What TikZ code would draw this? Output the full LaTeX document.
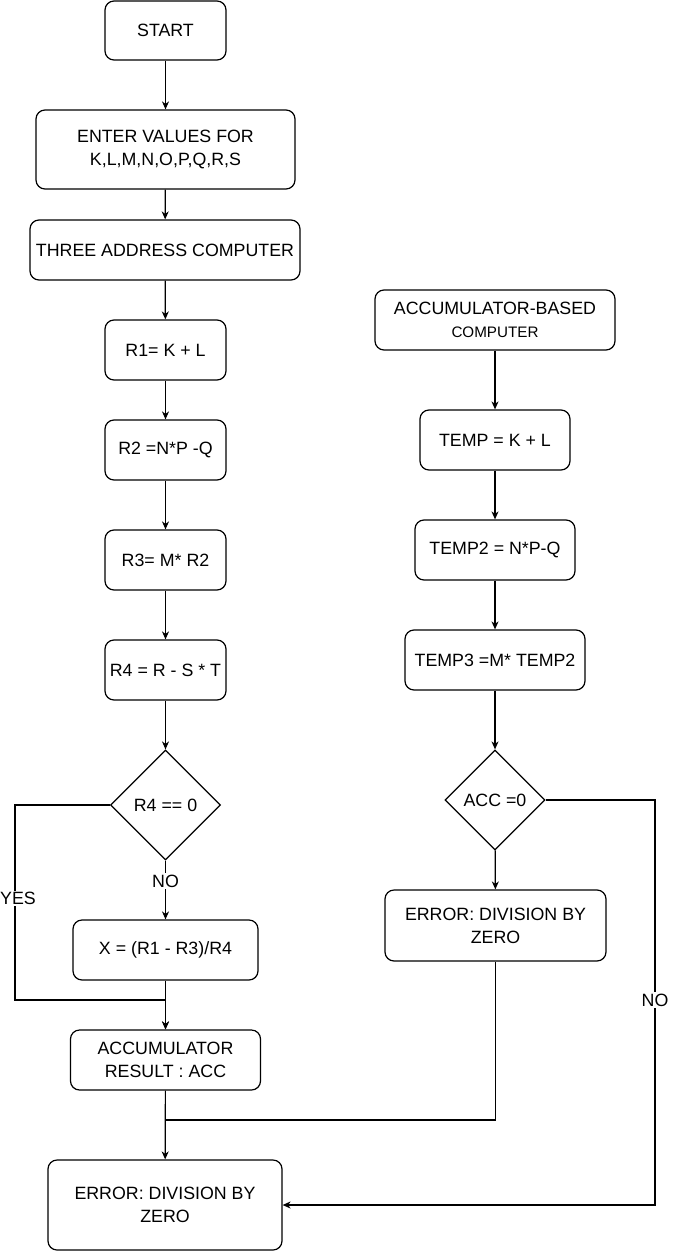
\documentclass[tikz,border=0pt]{standalone}
\usepackage{fontspec}
\setmainfont{Liberation Sans}
\usetikzlibrary{shapes.geometric,arrows.meta}
\begin{document}
\begin{tikzpicture}[x=1pt,y=-1pt,
  txt/.style={font=\fontsize{17.8}{23}\selectfont},
  box/.style={txt,draw,rounded corners=9pt,line width=1.2pt,align=center,inner sep=0pt},
  dia/.style={txt,draw,diamond,line width=1.2pt,inner sep=0pt,aspect=1},
  ln/.style={line width=1.2pt},
  arr/.style={ln,-{Stealth[length=8pt,width=7pt,inset=2.5pt]}},
  lbl/.style={txt,fill=white,inner sep=1.5pt}]
\useasboundingbox (0,0) rectangle (674,1252);
% left column
\node[box,minimum width=121pt,minimum height=59pt] (start) at (165.5,30.5) {START};
\node[box,minimum width=259pt,minimum height=79pt] (enter) at (165.5,149.5) {ENTER VALUES FOR\\K,L,M,N,O,P,Q,R,S};
\node[box,minimum width=270pt,minimum height=60pt] (three) at (165,250) {THREE ADDRESS COMPUTER};
\node[box,minimum width=121pt,minimum height=60pt] (r1) at (165.5,350) {R1= K + L};
\node[box,minimum width=121pt,minimum height=60pt] (r2) at (165.5,450) {R2 =N*P -Q};
\node[box,minimum width=121pt,minimum height=60pt] (r3) at (165.5,560) {R3= M* R2};
\node[box,minimum width=121pt,minimum height=60pt] (r4) at (165.5,670) {R4 = R - S * T};
\node[dia,minimum width=110pt,minimum height=110pt] (d1) at (165.5,805) {R4 == 0};
\node[box,minimum width=185pt,minimum height=60pt] (x) at (165.5,950) {X = (R1 - R3)/R4};
\node[box,minimum width=190pt,minimum height=60pt] (acc) at (165.5,1060) {ACCUMULATOR\\RESULT : ACC};
\node[box,minimum width=234pt,minimum height=90pt] (err1) at (165,1205) {ERROR: DIVISION BY\\ZERO};
% right column
\node[box,minimum width=240pt,minimum height=60pt] (ab) at (495,320) {ACCUMULATOR-BASED\\{\fontsize{15.2}{20}\selectfont COMPUTER}};
\node[box,minimum width=150pt,minimum height=60pt] (t1) at (495,440) {TEMP = K + L};
\node[box,minimum width=160pt,minimum height=60pt] (t2) at (495,550) {TEMP2 = N*P-Q};
\node[box,minimum width=180pt,minimum height=60pt] (t3) at (495,660) {TEMP3 =M* TEMP2};
\node[dia,minimum width=100pt,minimum height=100pt] (d2) at (495,800) {ACC =0};
\node[box,minimum width=221pt,minimum height=71pt] (err2) at (495.5,925.5) {ERROR: DIVISION BY\\ZERO};
% coordinates
\coordinate (yb) at (15,1000);
\coordinate (jn) at (165.5,1120);
\coordinate (nb) at (655,1205);
% connectors left
\draw[arr] (start) -- (enter);
\draw[arr] (enter) -- (three);
\draw[arr] (three) -- (r1);
\draw[arr] (r1) -- (r2);
\draw[arr] (r2) -- (r3);
\draw[arr] (r3) -- (r4);
\draw[arr] (r4) -- (d1);
\draw[arr] (d1) -- node[lbl,pos=0.35]{NO} (x);
\draw[arr] (d1.west) -| node[lbl,pos=0.74,xshift=3pt,inner xsep=0.5pt]{YES} (yb) -| (acc.north);
\draw[arr] (x) -- (acc);
\draw[arr] (acc) -- (err1);
% connectors right
\draw[arr] (ab) -- (t1);
\draw[arr] (t1) -- (t2);
\draw[arr] (t2) -- (t3);
\draw[arr] (t3) -- (d2);
\draw[arr] (d2) -- (err2);
\draw[ln] (err2.south) |- (jn);
\draw[arr] (d2.east) -| node[lbl,pos=0.747]{NO} (nb) -- (err1.east);
\end{tikzpicture}
\end{document}
